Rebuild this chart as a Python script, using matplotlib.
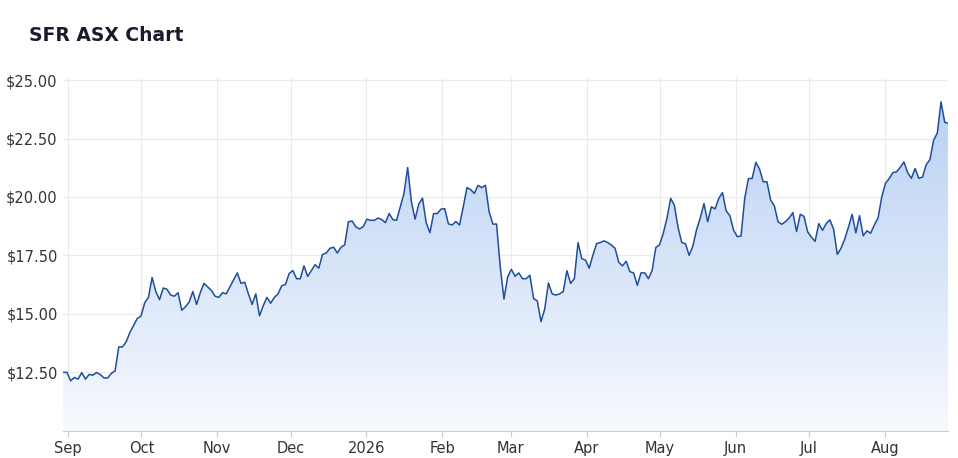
import matplotlib
matplotlib.use('Agg')
import matplotlib.pyplot as plt
import matplotlib.dates as mdates
from matplotlib.colors import LinearSegmentedColormap
import numpy as np
import pandas as pd

LINE = '#1f4e9c'
GRID = '#ebebeb'
TEXT = '#333333'

prices = [
    12.49, 12.49, 12.13, 12.27, 12.2, 12.48, 12.2, 12.4, 12.37, 12.48, 12.4, 12.25, 12.25, 12.45,
    12.55, 13.58, 13.58, 13.8, 14.2, 14.5, 14.8, 14.9, 15.47, 15.7, 16.55, 15.95, 15.6, 16.1,
    16.05, 15.8, 15.75, 15.9, 15.15, 15.3, 15.5, 15.95, 15.4, 15.9, 16.3, 16.15, 16.0, 15.75,
    15.7, 15.9, 15.85, 16.15, 16.45, 16.75, 16.3, 16.35, 15.85, 15.4, 15.85, 14.91, 15.35, 15.7,
    15.45, 15.7, 15.85, 16.2, 16.25, 16.72, 16.85, 16.5, 16.5, 17.05, 16.6, 16.85, 17.1, 16.95,
    17.54, 17.6, 17.8, 17.85, 17.6, 17.85, 17.95, 18.94, 18.97, 18.72, 18.63, 18.73, 19.05, 19.0,
    19.0, 19.1, 19.03, 18.9, 19.29, 19.03, 19.0, 19.58, 20.15, 21.26, 19.8, 19.05, 19.7, 19.95,
    18.9, 18.47, 19.29, 19.29, 19.48, 19.5, 18.85, 18.8, 18.95, 18.8, 19.57, 20.4, 20.32, 20.15,
    20.5, 20.4, 20.5, 19.36, 18.84, 18.84, 17.0, 15.63, 16.58, 16.9, 16.6, 16.75, 16.5, 16.5,
    16.65, 15.65, 15.55, 14.66, 15.2, 16.32, 15.85, 15.8, 15.85, 15.95, 16.84, 16.3, 16.5, 18.05,
    17.36, 17.3, 16.95, 17.5, 18.0, 18.05, 18.12, 18.05, 17.94, 17.8, 17.2, 17.05, 17.25, 16.8,
    16.75, 16.22, 16.75, 16.75, 16.5, 16.85, 17.84, 17.95, 18.44, 19.08, 19.94, 19.65, 18.7, 18.05,
    18.0, 17.5, 17.9, 18.6, 19.1, 19.72, 18.94, 19.58, 19.49, 19.94, 20.19, 19.4, 19.2, 18.58,
    18.3, 18.33, 19.94, 20.79, 20.79, 21.48, 21.2, 20.65, 20.65, 19.87, 19.62, 18.94, 18.83, 18.94,
    19.1, 19.33, 18.52, 19.26, 19.17, 18.5, 18.28, 18.1, 18.86, 18.57, 18.86, 19.02, 18.62, 17.54,
    17.8, 18.2, 18.7, 19.26, 18.46, 19.2, 18.34, 18.55, 18.45, 18.8, 19.1, 20.0, 20.58, 20.79,
    21.04, 21.08, 21.27, 21.5, 21.04, 20.8, 21.22, 20.8, 20.85, 21.38, 21.6, 22.43, 22.74, 24.07,
    23.2, 23.15,
]
dates = pd.date_range('2025-08-30', '2026-08-27', periods=len(prices))
y_ticks = [12.5, 15.0, 17.5, 20.0, 22.5, 25.0]
month_starts = pd.date_range('2025-09-01', '2026-08-01', freq='MS')
month_labels = ['Sep', 'Oct', 'Nov', 'Dec', '2026', 'Feb', 'Mar', 'Apr', 'May', 'Jun', 'Jul', 'Aug']

fig = plt.figure(figsize=(9.58, 4.58), dpi=100)
ax = fig.add_axes([0.066, 0.06, 0.924, 0.77])
ymin, ymax = 10.0, 25.1
x = mdates.date2num(dates)

# gradient fill under the line
cmap = LinearSegmentedColormap.from_list('fill', ['#f7f9fe', '#b9d1f3'])
grad = np.linspace(0, 1, 256).reshape(-1, 1)
im = ax.imshow(grad, cmap=cmap, aspect='auto', origin='lower',
               extent=[x[0], x[-1], ymin, max(prices)], zorder=1)
poly = ax.fill_between(x, prices, ymin, color='none')
im.set_clip_path(poly.get_paths()[0], transform=ax.transData)
ax.plot(x, prices, color=LINE, linewidth=1.1, zorder=3)

ax.set_xlim(x[0], x[-1])
ax.set_ylim(ymin, ymax)
ax.set_yticks(y_ticks)
ax.set_yticklabels([f'${v:.2f}' for v in y_ticks])
ax.set_xticks(mdates.date2num(month_starts))
ax.set_xticklabels(month_labels)
ax.grid(True, color=GRID, linewidth=0.8, zorder=0)
ax.set_axisbelow(True)
for s in ['top', 'right', 'left']:
    ax.spines[s].set_visible(False)
ax.spines['bottom'].set_color('#cccccc')
ax.tick_params(axis='y', length=0, labelsize=10.5, colors=TEXT, pad=4)
ax.tick_params(axis='x', length=4, color='#cccccc', labelsize=10.5, colors=TEXT)

fig.text(0.03, 0.91, 'SFR ASX Chart', fontsize=13.5, fontweight='bold', color='#1a1a2e')

fig.savefig('out.png', dpi=100)
